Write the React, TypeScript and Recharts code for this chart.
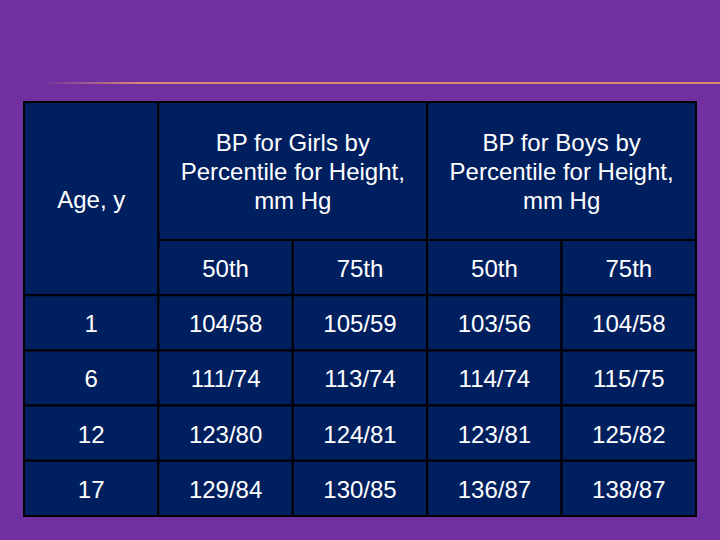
import { ComposedChart, XAxis, YAxis, ReferenceArea } from "recharts";

const ages = ["1", "6", "12", "17"];
const girls50 = ["104/58", "111/74", "123/80", "129/84"];
const girls75 = ["105/59", "113/74", "124/81", "130/85"];
const boys50 = ["103/56", "114/74", "123/81", "136/87"];
const boys75 = ["104/58", "115/75", "125/82", "138/87"];
const percentiles = ["50th", "75th"];
const ageTitle = ["Age, y"];
const girlsTitle = ["BP for Girls by", "Percentile for Height,", "mm Hg"];
const boysTitle = ["BP for Boys by", "Percentile for Height,", "mm Hg"];

const PURPLE = "#71309F";
const NAVY = "#001F5F";
const FONT = "'Liberation Sans', Arial, sans-serif";

type Cell = { x1: number; x2: number; y1: number; y2: number; lines: string[] };

// grid units: 5 columns, header block 2.5 rows tall, then 1 row each
const cells: Cell[] = [];
cells.push({ x1: 0, x2: 1, y1: 0, y2: 3.5, lines: ageTitle });
cells.push({ x1: 1, x2: 3, y1: 0, y2: 2.5, lines: girlsTitle });
cells.push({ x1: 3, x2: 5, y1: 0, y2: 2.5, lines: boysTitle });
[1, 2, 3, 4].forEach((c, i) => {
  cells.push({ x1: c, x2: c + 1, y1: 2.5, y2: 3.5, lines: [percentiles[i % 2]] });
});
const columns = [ages, girls50, girls75, boys50, boys75];
columns.forEach((col, c) => {
  col.forEach((v, r) => {
    cells.push({ x1: c, x2: c + 1, y1: 3.5 + r, y2: 4.5 + r, lines: [v] });
  });
});

const CellLabel = (props: any) => {
  const { viewBox, lines } = props;
  if (!viewBox) return null;
  const cx = viewBox.x + viewBox.width / 2;
  const cy = viewBox.y + viewBox.height / 2 + 1;
  const step = 29;
  const start = cy - ((lines.length - 1) * step) / 2;
  return (
    <text
      x={cx}
      textAnchor="middle"
      fill="#ffffff"
      fontSize={24}
      fontFamily={FONT}
    >
      {lines.map((l: string, i: number) => (
        <tspan key={i} x={cx} y={start + i * step} dy="0.35em">
          {l}
        </tspan>
      ))}
    </text>
  );
};

export default function App() {
  return (
    <div style={{ position: "relative", width: 720, height: 540, background: PURPLE }}>
      <style>{`body{margin:0;background:${PURPLE};}`}</style>
      <div
        style={{
          position: "absolute",
          left: 40,
          top: 82,
          width: 680,
          height: 2,
          background:
            "linear-gradient(to right, rgba(230,150,110,0) 0%, rgba(225,150,115,0.9) 15%, #d9906e 100%)",
        }}
      />
      <ComposedChart
        width={720}
        height={540}
        data={[]}
        margin={{ top: 102, right: 24, bottom: 24, left: 24 }}
      >
        <XAxis type="number" dataKey="x" domain={[0, 5]} hide allowDataOverflow />
        <YAxis type="number" dataKey="y" domain={[0, 7.5]} reversed hide allowDataOverflow />
        {cells.map((c, i) => (
          <ReferenceArea
            key={i}
            x1={c.x1}
            x2={c.x2}
            y1={c.y1}
            y2={c.y2}
            fill={NAVY}
            fillOpacity={1}
            stroke="#000000"
            strokeWidth={2}
            ifOverflow="visible"
            label={<CellLabel lines={c.lines} />}
          />
        ))}
      </ComposedChart>
    </div>
  );
}
